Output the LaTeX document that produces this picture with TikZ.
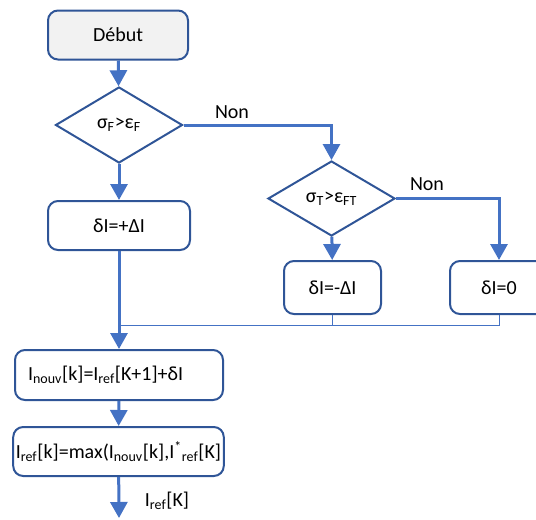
\documentclass[tikz,border=0pt]{standalone}
\usepackage{fontspec}
\setmainfont{Carlito}
\usetikzlibrary{arrows.meta,shapes.geometric}
\definecolor{cadre}{HTML}{2F5597}
\definecolor{fleche}{HTML}{4472C4}
\definecolor{fond}{HTML}{F2F2F2}

\begin{document}
\begin{tikzpicture}[x=0.75pt,y=-0.75pt]
      \tikzset { bloc/.style = { shape=rectangle,rounded corners=7.5pt,draw=cadre,line width=1.5pt,inner xsep=2pt,font=\fontsize{15}{18}\selectfont } }
      \tikzset { test/.style = { shape=diamond,draw=cadre,line width=1.5pt,inner sep=0pt,font=\fontsize{15}{18}\selectfont } }
      \tikzset { edge/.style = { draw=fleche,line width=2.25pt,-{Triangle[width=12.75pt,length=12pt]} } }
      \tikzset { lien/.style = { draw=fleche,line width=0.75pt } }
      \tikzset { lbl/.style = { font=\fontsize{15}{18}\selectfont } }

      \useasboundingbox (0,0) rectangle (536,519);

      \node[bloc,fill=fond,minimum width=105pt,minimum height=36.75pt] (debut) at (118,35) {Début};
      \node[test,minimum width=95.25pt,minimum height=57pt] (testF) at (119,125) {σ\textsubscript{F}>ε\textsubscript{F}};
      \node[bloc,minimum width=106.5pt,minimum height=36.75pt] (plus) at (119,225.5) {δI=+ΔI};
      \node[test,minimum width=95.25pt,minimum height=56.25pt] (testT) at (331.5,198.5) {σ\textsubscript{T}>ε\textsubscript{FT}};
      \node[bloc,minimum width=72.75pt,minimum height=39.75pt] (moins) at (332.5,287.5) {δI=-ΔI};
      \node[bloc,minimum width=73.5pt,minimum height=39.75pt] (zero) at (499,287.5) {δI=0};
      \node[bloc,minimum height=37.5pt,text width=136.5pt,inner xsep=9.75pt,align=left] (nouv) at (119,375) {I\textsubscript{nouv}[k]=I\textsubscript{ref}[K+1]+δI};
      \node[bloc,minimum width=156.75pt,minimum height=36.75pt] (ref) at (118.5,451.5) {I\textsubscript{ref}[k]=max(I\textsubscript{nouv}[k],I\textsuperscript{*}\textsubscript{ref}[K]};
      \coordinate (fin) at (119,518);
      \coordinate (coude) at (331.5,125);
      \coordinate (jonction) at (119,325);

      \draw[edge] (debut) to (testF);
      \draw[edge] (testF) to (plus);
      \draw[edge] (testF.east) -- (coude) -- (testT.north);
      \draw[edge] (testT) to (moins);
      \draw[edge] (testT.east) -| (zero.north);
      \draw[lien] (moins.south) |- (jonction);
      \draw[lien] (zero.south) |- (jonction);
      \draw[edge] (plus) to (nouv);
      \draw[edge] (nouv) to (ref);
      \draw[edge] (ref) to (fin);

      \node[lbl] (non1) at (232,112) {Non};
      \node[lbl] (non2) at (427,184) {Non};
      \node[lbl] (sortie) at (167,501) {I\textsubscript{ref}[K]};

    \end{tikzpicture}
\end{document}
